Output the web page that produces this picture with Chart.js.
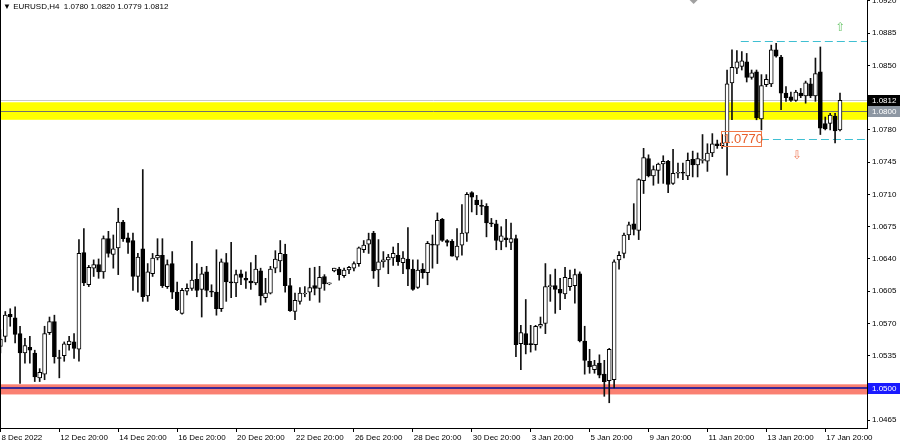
<!DOCTYPE html>
<html>
<head>
<meta charset="utf-8">
<script src="https://cdn.jsdelivr.net/npm/chart.js@4.4.0/dist/chart.umd.min.js"></script>
<style>
html, body { margin: 0; padding: 0; background: #fff; }
canvas { display: block; }
</style>
</head>
<body>
<canvas id="eurusd" width="900" height="447"></canvas>
<script>
// EURUSD H4 candles, oldest first (8 Dec 20:00 ... 18 Jan 08:00)
var open = [
  1.0545,1.0556,1.0580,1.0576,1.0559,1.0538,1.0544,1.0538,1.0511,1.0515,
  1.0560,1.0572,1.0533,1.0535,1.0547,1.0550,1.0542,1.0647,1.0612,1.0630,
  1.0634,1.0626,1.0662,1.0645,1.0652,1.0680,1.0663,1.0660,1.0621,1.0651,
  1.0600,1.0624,1.0641,1.0644,1.0610,1.0635,1.0604,1.0581,1.0605,1.0608,
  1.0618,1.0607,1.0626,1.0605,1.0604,1.0586,1.0636,1.0615,1.0614,1.0624,
  1.0619,1.0616,1.0614,1.0627,1.0598,1.0603,1.0630,1.0638,1.0645,1.0611,
  1.0583,1.0594,1.0602,1.0604,1.0611,1.0608,1.0621,1.0613,1.0627,1.0629,
  1.0622,1.0628,1.0630,1.0635,1.0650,1.0656,1.0668,1.0628,1.0637,1.0639,
  1.0641,1.0644,1.0636,1.0640,1.0629,1.0609,1.0629,1.0625,1.0656,1.0655,
  1.0683,1.0660,1.0659,1.0642,1.0655,1.0668,1.0712,1.0704,1.0698,1.0697,
  1.0679,1.0678,1.0659,1.0663,1.0658,1.0662,1.0548,1.0559,1.0548,1.0547,
  1.0567,1.0570,1.0610,1.0611,1.0607,1.0602,1.0610,1.0611,1.0624,1.0551,
  1.0529,1.0520,1.0527,1.0515,1.0508,1.0509,1.0639,1.0646,1.0666,1.0678,
  1.0671,1.0725,1.0749,1.0730,1.0736,1.0743,1.0746,1.0722,1.0733,1.0734,
  1.0730,1.0748,1.0742,1.0747,1.0746,1.0755,1.0765,1.0763,1.0766,1.0831,
  1.0847,1.0849,1.0854,1.0837,1.0843,1.0792,1.0829,1.0830,1.0867,1.0859,
  1.0820,1.0816,1.0812,1.0820,1.0817,1.0830,1.0817,1.0843,1.0787,1.0787,
  1.0795,1.0780
];
var high = [
  1.0563,1.0583,1.0586,1.0588,1.0567,1.0554,1.0556,1.0541,1.0521,1.0567,
  1.0577,1.0579,1.0541,1.0550,1.0556,1.0559,1.0661,1.0673,1.0633,1.0639,
  1.0640,1.0665,1.0670,1.0666,1.0695,1.0682,1.0668,1.0668,1.0646,1.0737,
  1.0635,1.0646,1.0662,1.0662,1.0639,1.0648,1.0615,1.0608,1.0613,1.0659,
  1.0635,1.0631,1.0632,1.0612,1.0650,1.0640,1.0646,1.0658,1.0628,1.0628,
  1.0626,1.0636,1.0644,1.0630,1.0619,1.0632,1.0649,1.0660,1.0656,1.0619,
  1.0603,1.0609,1.0610,1.0630,1.0631,1.0632,1.0623,1.0614,1.0630,1.0631,
  1.0630,1.0632,1.0637,1.0653,1.0660,1.0668,1.0670,1.0661,1.0648,1.0645,
  1.0653,1.0657,1.0648,1.0674,1.0639,1.0639,1.0635,1.0659,1.0666,1.0690,
  1.0684,1.0661,1.0661,1.0673,1.0699,1.0712,1.0713,1.0709,1.0704,1.0700,
  1.0684,1.0682,1.0675,1.0683,1.0679,1.0666,1.0568,1.0596,1.0568,1.0568,
  1.0577,1.0635,1.0623,1.0629,1.0619,1.0631,1.0628,1.0629,1.0626,1.0567,
  1.0542,1.0530,1.0536,1.0530,1.0543,1.0639,1.0648,1.0668,1.0680,1.0700,
  1.0727,1.0760,1.0753,1.0741,1.0744,1.0752,1.0747,1.0759,1.0744,1.0744,
  1.0755,1.0757,1.0755,1.0775,1.0765,1.0776,1.0769,1.0775,1.0845,1.0867,
  1.0866,1.0865,1.0863,1.0845,1.0845,1.0840,1.0840,1.0872,1.0874,1.0861,
  1.0827,1.0821,1.0823,1.0825,1.0833,1.0836,1.0858,1.0870,1.0794,1.0798,
  1.0798,1.0820
];
var low = [
  1.0538,1.0550,1.0567,1.0549,1.0505,1.0527,1.0527,1.0507,1.0507,1.0509,
  1.0558,1.0527,1.0511,1.0529,1.0541,1.0532,1.0529,1.0611,1.0610,1.0621,
  1.0619,1.0619,1.0642,1.0630,1.0623,1.0659,1.0646,1.0606,1.0604,1.0594,
  1.0594,1.0621,1.0639,1.0609,1.0608,1.0597,1.0584,1.0580,1.0601,1.0606,
  1.0599,1.0577,1.0599,1.0599,1.0579,1.0583,1.0594,1.0598,1.0599,1.0612,
  1.0608,1.0607,1.0612,1.0590,1.0593,1.0602,1.0625,1.0626,1.0604,1.0583,
  1.0574,1.0591,1.0599,1.0595,1.0601,1.0593,1.0606,1.0612,1.0626,1.0617,
  1.0620,1.0624,1.0627,1.0632,1.0647,1.0646,1.0619,1.0610,1.0631,1.0624,
  1.0633,1.0633,1.0624,1.0611,1.0606,1.0608,1.0619,1.0612,1.0630,1.0635,
  1.0659,1.0654,1.0643,1.0639,1.0644,1.0659,1.0691,1.0688,1.0688,1.0664,
  1.0675,1.0650,1.0650,1.0653,1.0650,1.0534,1.0520,1.0537,1.0539,1.0541,
  1.0565,1.0559,1.0594,1.0581,1.0585,1.0597,1.0606,1.0592,1.0550,1.0515,
  1.0516,1.0516,1.0511,1.0491,1.0484,1.0500,1.0629,1.0641,1.0661,1.0666,
  1.0661,1.0711,1.0729,1.0720,1.0722,1.0722,1.0712,1.0721,1.0728,1.0726,
  1.0726,1.0729,1.0729,1.0744,1.0735,1.0751,1.0760,1.0760,1.0731,1.0791,
  1.0841,1.0845,1.0832,1.0835,1.0791,1.0780,1.0827,1.0827,1.0859,1.0802,
  1.0811,1.0811,1.0811,1.0815,1.0809,1.0815,1.0811,1.0775,1.0780,1.0780,
  1.0766,1.0779
];
var close = [
  1.0553,1.0579,1.0577,1.0558,1.0538,1.0546,1.0541,1.0512,1.0517,1.0559,
  1.0572,1.0534,1.0532,1.0548,1.0551,1.0543,1.0646,1.0614,1.0631,1.0634,
  1.0626,1.0662,1.0646,1.0651,1.0680,1.0662,1.0658,1.0621,1.0642,1.0599,
  1.0626,1.0641,1.0644,1.0611,1.0634,1.0604,1.0585,1.0606,1.0608,1.0617,
  1.0606,1.0624,1.0606,1.0604,1.0586,1.0637,1.0615,1.0614,1.0623,1.0620,
  1.0617,1.0614,1.0629,1.0600,1.0603,1.0629,1.0640,1.0646,1.0611,1.0584,
  1.0595,1.0603,1.0603,1.0609,1.0608,1.0620,1.0613,1.0613,1.0630,1.0623,
  1.0628,1.0631,1.0635,1.0652,1.0655,1.0661,1.0627,1.0637,1.0639,1.0642,
  1.0646,1.0637,1.0641,1.0629,1.0607,1.0628,1.0625,1.0657,1.0655,1.0682,
  1.0660,1.0658,1.0643,1.0654,1.0668,1.0710,1.0707,1.0699,1.0697,1.0679,
  1.0678,1.0660,1.0665,1.0661,1.0662,1.0547,1.0560,1.0547,1.0547,1.0567,
  1.0569,1.0610,1.0611,1.0607,1.0603,1.0620,1.0619,1.0623,1.0551,1.0530,
  1.0523,1.0525,1.0514,1.0507,1.0542,1.0637,1.0644,1.0666,1.0677,1.0672,
  1.0726,1.0750,1.0730,1.0737,1.0743,1.0746,1.0721,1.0733,1.0734,1.0733,
  1.0747,1.0742,1.0749,1.0748,1.0755,1.0765,1.0763,1.0766,1.0830,1.0848,
  1.0854,1.0855,1.0837,1.0842,1.0793,1.0828,1.0835,1.0867,1.0860,1.0820,
  1.0815,1.0812,1.0821,1.0817,1.0831,1.0817,1.0841,1.0782,1.0781,1.0796,
  1.0779,1.0812
];

// time axis labels (bar index -> text)
var tickIdx = [0, 12, 24, 36, 48, 60, 72, 84, 96, 108, 120, 132, 144, 156, 168];
var tickText = ['8 Dec 2022', '12 Dec 20:00', '14 Dec 20:00', '16 Dec 20:00', '20 Dec 20:00',
  '22 Dec 20:00', '26 Dec 20:00', '28 Dec 20:00', '30 Dec 20:00', '3 Jan 20:00',
  '5 Jan 20:00', '9 Jan 20:00', '11 Jan 20:00', '13 Jan 20:00', '17 Jan 20:00'];

// price axis labels
var priceTicks = [1.0465, 1.0500, 1.0535, 1.0570, 1.0605, 1.0640, 1.0675, 1.0710,
  1.0745, 1.0780, 1.0815, 1.0850, 1.0885, 1.0920];

// levels drawn on the chart
var yellowZone = [1.0791, 1.0810];
var redZone = [1.0493, 1.0504];
var supportLevel = 1.0500;
var midLevel = 1.0800;
var bidPrice = 1.0812;
var upperTarget = 1.0877, upperFrom = 150.8;
var lowerTarget = 1.0770, lowerFrom = 154.9, lowerLabelFrom = 146.8;
var upArrow = [171.1, 1.0891];
var downArrow = [162.3, 1.0752];

var symbolText = '\u25BC EURUSD,H4  1.0780 1.0820 1.0779 1.0812';

var idx = open.map(function(v, i) { return i; });
var wicks = idx.map(function(i) { return { x: i, y: [low[i], high[i]] }; });
var bodies = idx.map(function(i) { return { x: i, y: [open[i], close[i]] }; });
var bodyColors = idx.map(function(i) { return close[i] >= open[i] ? '#ffffff' : '#000000'; });

var FONT = '"Liberation Sans", "DejaVu Sans", sans-serif';

function hline(chart, price, color, width) {
  var c = chart.ctx, a = chart.chartArea;
  var y = Math.round(chart.scales.y.getPixelForValue(price)) + (width % 2 ? 0.5 : 0);
  c.strokeStyle = color;
  c.lineWidth = width;
  c.beginPath();
  c.moveTo(a.left, y);
  c.lineTo(a.right, y);
  c.stroke();
}

function priceTag(chart, price, bg, fg) {
  var c = chart.ctx, a = chart.chartArea;
  var y = chart.scales.y.getPixelForValue(price);
  c.fillStyle = bg;
  c.fillRect(a.right + 1, Math.round(y) - 5, chart.width - a.right - 1, 11);
  c.fillStyle = fg;
  c.font = '8px ' + FONT;
  c.textAlign = 'left';
  c.textBaseline = 'middle';
  c.fillText(price.toFixed(4), a.right + 5, Math.round(y) + 0.5);
}

var mtDecor = {
  id: 'mtDecor',
  beforeDatasetsDraw: function(chart) {
    var c = chart.ctx, a = chart.chartArea, x = chart.scales.x, y = chart.scales.y;
    c.save();
    c.beginPath();
    c.rect(a.left, a.top, a.right - a.left, a.bottom - a.top);
    c.clip();

    var t = y.getPixelForValue(yellowZone[1]), b = y.getPixelForValue(yellowZone[0]);
    c.fillStyle = '#ffff00';
    c.fillRect(a.left, t, a.right - a.left, b - t);

    t = y.getPixelForValue(redZone[1]);
    b = y.getPixelForValue(redZone[0]);
    c.fillStyle = '#fa8072';
    c.fillRect(a.left, t, a.right - a.left, b - t);

    hline(chart, bidPrice, '#c8c8c8', 1);
    hline(chart, midLevel, '#707070', 1);
    hline(chart, supportLevel, '#3b2a96', 2);

    // dashed target lines
    c.setLineDash([8, 4]);
    c.strokeStyle = '#3fbfd2';
    c.lineWidth = 1;
    var yu = Math.round(y.getPixelForValue(upperTarget)) + 0.5;
    c.beginPath();
    c.moveTo(x.getPixelForValue(upperFrom), yu);
    c.lineTo(a.right, yu);
    c.stroke();
    var yl = Math.round(y.getPixelForValue(lowerTarget)) + 0.5;
    c.beginPath();
    c.moveTo(x.getPixelForValue(lowerFrom), yl);
    c.lineTo(a.right, yl);
    c.stroke();
    c.restore();
  },
  afterDraw: function(chart) {
    var c = chart.ctx, a = chart.chartArea, x = chart.scales.x, y = chart.scales.y;
    c.save();

    // chart frame on the left
    c.strokeStyle = '#000';
    c.lineWidth = 1;
    c.beginPath();
    c.moveTo(a.left + 0.5, a.top);
    c.lineTo(a.left + 0.5, a.bottom);
    c.stroke();

    // 1.0770 label box
    var yl = y.getPixelForValue(lowerTarget);
    var lx = x.getPixelForValue(lowerLabelFrom);
    var rx = x.getPixelForValue(lowerFrom);
    c.strokeStyle = '#f07848';
    c.strokeRect(Math.round(lx) + 0.5, Math.round(yl) - 7.5, Math.round(rx - lx), 15);
    c.fillStyle = '#e8602c';
    c.font = '13px ' + FONT;
    c.textAlign = 'left';
    c.textBaseline = 'middle';
    c.fillText(lowerTarget.toFixed(4), lx + 2, yl + 0.5);

    // arrows
    c.font = '12px "DejaVu Sans", sans-serif';
    c.textAlign = 'center';
    c.fillStyle = '#6cc66c';
    c.fillText('\u21E7', x.getPixelForValue(upArrow[0]), y.getPixelForValue(upArrow[1]));
    c.fillStyle = '#f08060';
    c.fillText('\u21E9', x.getPixelForValue(downArrow[0]), y.getPixelForValue(downArrow[1]));

    // shift marker at the top
    var sx = a.left + (a.right - a.left) * 0.8;
    c.fillStyle = '#a0a0a0';
    c.beginPath();
    c.moveTo(sx - 4, a.top);
    c.lineTo(sx + 4, a.top);
    c.lineTo(sx, a.top + 4);
    c.closePath();
    c.fill();

    // header
    c.fillStyle = '#000';
    c.font = '8px ' + FONT;
    c.textAlign = 'left';
    c.textBaseline = 'middle';
    c.fillText(symbolText, a.left + 3, 7);

    // price tags on the axis
    priceTag(chart, midLevel, '#8d97a3', '#ffffff');
    priceTag(chart, bidPrice, '#000000', '#ffffff');
    priceTag(chart, supportLevel, '#1a1aff', '#ffffff');
    c.restore();
  }
};

var ctx = document.getElementById('eurusd').getContext('2d');
var chart = new Chart(ctx, {
  type: 'bar',
  data: {
    datasets: [{
      label: 'body',
      data: bodies,
      backgroundColor: bodyColors,
      borderColor: '#000',
      borderWidth: 1,
      borderSkipped: false,
      barThickness: 4,
      minBarLength: 1,
      grouped: false,
      order: 0
    }, {
      label: 'wick',
      data: wicks,
      backgroundColor: '#111',
      borderWidth: 0,
      barThickness: 1,
      grouped: false,
      order: 1
    }]
  },
  options: {
    responsive: false,
    animation: false,
    layout: { padding: 0 },
    plugins: {
      legend: { display: false },
      tooltip: { enabled: false },
      title: { display: false }
    },
    scales: {
      x: {
        type: 'linear',
        offset: false,
        min: -0.08,
        max: 176.5,
        afterBuildTicks: function(s) {
          s.ticks = tickIdx.map(function(v) { return { value: v }; });
        },
        afterFit: function(s) {
          s.height = 19;
          s.paddingLeft = 0;
          s.paddingRight = 0;
        },
        grid: { offset: false, drawOnChartArea: false, drawTicks: true, tickLength: 4, color: '#000' },
        border: { display: true, color: '#000', width: 1 },
        ticks: {
          autoSkip: false,
          maxRotation: 0,
          align: 'start',
          labelOffset: 1,
          padding: 1,
          color: '#000',
          font: { family: FONT, size: 8 },
          callback: function(v) {
            var k = tickIdx.indexOf(v);
            return k < 0 ? '' : tickText[k];
          }
        }
      },
      y: {
        type: 'linear',
        position: 'right',
        min: 1.04566,
        max: 1.092096,
        afterBuildTicks: function(s) {
          s.ticks = priceTicks.map(function(v) { return { value: v }; });
        },
        afterFit: function(s) {
          s.width = 33;
          s.paddingTop = 0;
          s.paddingBottom = 0;
        },
        grid: { drawOnChartArea: false, drawTicks: true, tickLength: 3, color: '#000' },
        border: { display: true, color: '#000', width: 1 },
        ticks: {
          padding: 2,
          color: '#000',
          font: { family: FONT, size: 8 },
          callback: function(v) { return v.toFixed(4); }
        }
      }
    }
  },
  plugins: [mtDecor]
});
</script>
</body>
</html>
